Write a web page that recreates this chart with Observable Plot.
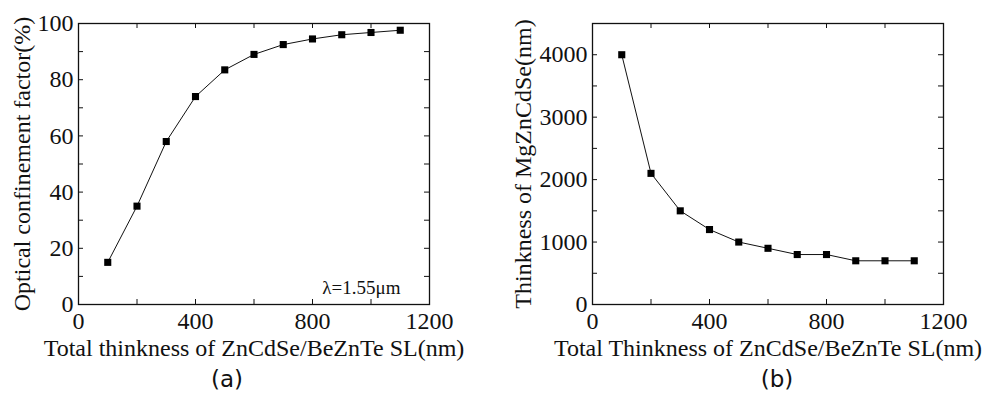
<!DOCTYPE html>
<html>
<head>
<meta charset="utf-8">
<script src="https://cdn.jsdelivr.net/npm/d3@7"></script>
<script src="https://cdn.jsdelivr.net/npm/@observablehq/plot@0.6"></script>
<style>
  html, body { margin: 0; padding: 0; background: #fff; }
  #wrap { position: relative; width: 983px; height: 400px; background: #fff; }
  .panel { position: absolute; top: 0; }
  .cap { position: absolute; font-family: "DejaVu Sans", sans-serif; font-size: 23px; color: #111; transform: translateX(-50%); top: 366px; }
</style>
</head>
<body>
<div id="wrap">
  <div id="pa" class="panel" style="left:0px"></div>
  <div id="pb" class="panel" style="left:491px"></div>
  <div class="cap" style="left:227px">(a)</div>
  <div class="cap" style="left:777px">(b)</div>
</div>
<script>
// Data
const thickness = [100, 200, 300, 400, 500, 600, 700, 800, 900, 1000, 1100];
const confinement = [15, 35, 58, 74, 83.5, 89, 92.5, 94.5, 96, 96.8, 97.6];
const mgThickness = [4000, 2100, 1500, 1200, 1000, 900, 800, 800, 700, 700, 700];

const xTickLabels = [0, 400, 800, 1200];
const xTickMarks = [0, 200, 400, 600, 800, 1000, 1200];
const yaTickLabels = [0, 20, 40, 60, 80, 100];
const yaTickMarks = [0, 10, 20, 30, 40, 50, 60, 70, 80, 90, 100];
const ybTickLabels = [0, 1000, 2000, 3000, 4000];
const ybTickMarks = [0, 500, 1000, 1500, 2000, 2500, 3000, 3500, 4000, 4500];

const xLabelA = "Total thinkness of ZnCdSe/BeZnTe SL(nm)";
const xLabelB = "Total Thinkness of ZnCdSe/BeZnTe SL(nm)";
const yLabelA = "Optical confinement factor(%)";
const yLabelB = "Thinkness of MgZnCdSe(nm)";
const note = "λ=1.55μm";

const SERIF = "'Liberation Serif', 'Times New Roman', serif";

const dataA = thickness.map((t, i) => ({t, v: confinement[i]}));
const dataB = thickness.map((t, i) => ({t, v: mgThickness[i]}));

function panel({width, marginLeft, marginRight, data, yDomain, yLabels, yMarks, xLabel, yLabel, yLabelDx, extra}) {
  const height = 360, marginTop = 23, marginBottom = 56;
  const fw = width - marginLeft - marginRight;
  const fh = height - marginTop - marginBottom;
  const tk = 5;
  return Plot.plot({
    width, height, marginLeft, marginRight, marginTop, marginBottom,
    style: {fontFamily: SERIF, fontSize: "24px", color: "#111", overflow: "visible", background: "#fff"},
    x: {domain: [0, 1200], axis: null},
    y: {domain: yDomain, axis: null},
    marks: [
      Plot.frame({stroke: "#111", strokeWidth: 1.3}),
      Plot.tickX(xTickMarks, {x: d => d, insetTop: fh - tk, stroke: "#111"}),
      Plot.tickX(xTickMarks, {x: d => d, insetBottom: fh - tk, stroke: "#111"}),
      Plot.tickY(yMarks, {y: d => d, insetRight: fw - tk, stroke: "#111"}),
      Plot.tickY(yMarks, {y: d => d, insetLeft: fw - tk, stroke: "#111"}),
      Plot.text(xTickLabels, {x: d => d, text: d => String(d), frameAnchor: "bottom", lineAnchor: "top", textAnchor: "middle", dy: 7, fontFamily: SERIF, fontSize: 24, fill: "#111"}),
      Plot.text(yLabels, {y: d => d, text: d => String(d), frameAnchor: "left", lineAnchor: "middle", textAnchor: "end", dx: -5, fontFamily: SERIF, fontSize: 24, fill: "#111"}),
      Plot.line(data, {x: "t", y: "v", stroke: "#111", strokeWidth: 1}),
      Plot.dot(data, {x: "t", y: "v", symbol: "square", r: 4, fill: "#000", stroke: "none"}),
      Plot.text([xLabel], {frameAnchor: "bottom", dy: 44, lineAnchor: "middle", textAnchor: "middle", fontFamily: SERIF, fontSize: 24, fill: "#111"}),
      Plot.text([yLabel], {frameAnchor: "left", rotate: -90, dx: yLabelDx, lineAnchor: "middle", textAnchor: "middle", fontFamily: SERIF, fontSize: 24, fill: "#111"}),
      ...(extra || [])
    ]
  });
}

document.getElementById("pa").appendChild(panel({
  width: 491, marginLeft: 78, marginRight: 62,
  data: dataA, yDomain: [0, 100], yLabels: yaTickLabels, yMarks: yaTickMarks,
  xLabel: xLabelA, yLabel: yLabelA, yLabelDx: -56,
  extra: [Plot.text([note], {frameAnchor: "bottom-right", textAnchor: "end", dx: -29, dy: -17, lineAnchor: "middle", fontFamily: SERIF, fontSize: 19, fill: "#111"})]
}));

document.getElementById("pb").appendChild(panel({
  width: 492, marginLeft: 101, marginRight: 40,
  data: dataB, yDomain: [0, 4500], yLabels: ybTickLabels, yMarks: ybTickMarks,
  xLabel: xLabelB, yLabel: yLabelB, yLabelDx: -69
}));
</script>
</body>
</html>
